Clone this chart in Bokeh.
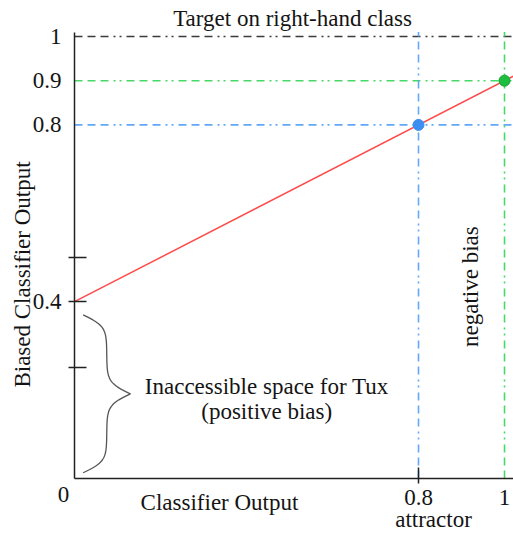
import numpy as np
from math import pi
from bokeh.plotting import figure
from bokeh.models import FixedTicker, Label
from bokeh.embed import file_html
from bokeh.resources import INLINE

# ---- chart values ----
title_text = "Target on right-hand class"
x_label = "Classifier Output"
y_label = "Biased Classifier Output"
x_ticks = [0.8, 1]
x_tick_labels = ["0.8", "1"]
x_minor = [0.8]
y_ticks = [0.4, 0.8, 0.9, 1]
y_tick_labels = ["0.4", "0.8", "0.9", "1"]
y_minor = [0.25, 0.4, 0.5]
line_x = [0, 0.8, 1]
line_y = [0.4, 0.8, 0.9]
point_x = [0.8, 1]
point_y = [0.8, 0.9]
upper_level = 1
brace_span = [0.013, 0.37]
texts = ["Inaccessible space for Tux", "(positive bias)", "negative bias", "attractor", "0"]

FONT = "Liberation Serif"
FS = "23px"
INK = "#141414"
AX = "#222222"
BLUE_L, BLUE_D = "#62a8f8", "#3c8ef0"
GREEN_L, GREEN_D = "#48d868", "#1cbf3e"
DASH = "8 5 8 5 8 5 2 4 2 5"

W, H = 513, 535
x_start, x_end = -0.1721, 1.0209
y_start, y_end = -0.129, 1.0814
y_top = 1.01

p = figure(width=W, height=H, output_backend="svg", toolbar_location=None,
           x_range=(x_start, x_end), y_range=(y_start, y_end),
           min_border=0)
p.grid.visible = False
p.outline_line_color = None

# axes crossing at the origin
xa = p.xaxis[0]
xa.ticker = FixedTicker(ticks=x_ticks, minor_ticks=x_minor)
xa.major_label_overrides = dict(zip(x_ticks, x_tick_labels))
xa.fixed_location = 0
xa.bounds = (0, x_end)
ya = p.yaxis[0]
ya.ticker = FixedTicker(ticks=y_ticks, minor_ticks=y_minor)
ya.major_label_overrides = dict(zip(y_ticks, y_tick_labels))
ya.fixed_location = 0
ya.bounds = (0, y_top)
for ax in (xa, ya):
    ax.major_tick_in = 0
    ax.major_tick_out = 0
    ax.minor_tick_line_color = AX
    ax.minor_tick_line_width = 1.5
    ax.axis_line_color = AX
    ax.axis_line_width = 1.5
    ax.major_label_text_font = FONT
    ax.major_label_text_font_size = FS
    ax.major_label_text_color = INK
    ax.major_label_standoff = 7
xa.minor_tick_in, xa.minor_tick_out = 11, 5
ya.minor_tick_in, ya.minor_tick_out = 12, 6

# dash-dot reference lines
h_levels = [upper_level, point_y[1], point_y[0]]
h_colors = ["#3a3a3a", GREEN_L, BLUE_L]
p.segment(x0=[0] * 3, y0=h_levels, x1=[x_end] * 3, y1=h_levels,
          line_color=h_colors, line_width=1.6, line_dash=DASH)
v_colors = [BLUE_L, GREEN_L]
p.segment(x0=point_x, y0=[0, 0], x1=point_x, y1=[y_top, y_top],
          line_color=v_colors, line_width=1.6, line_dash=DASH)

# biased classifier line (fit through its points, extended to the edge)
grad, icpt = np.polyfit(line_x, line_y, 1)
lx = np.array([line_x[0], x_end])
p.line(lx, icpt + grad * lx, line_color="#ff4a4a", line_width=1.5)

p.scatter(point_x, point_y, size=11, fill_color=[BLUE_D, GREEN_D],
          line_color=[BLUE_D, "#17a236"], line_width=1)

# curly brace over the inaccessible region
b0, b1 = brace_span
hh = (b1 - b0) / 2
t = np.linspace(0, 1, 80)
beta = 14
half = 1 / (1 + np.exp(-beta * t)) + 1 / (1 + np.exp(-beta * (t - 1))) - 0.5
bx0, bw = 0.02, 0.11
xs = np.concatenate([bx0 + bw * half, (bx0 + bw * half)[::-1]])
ys = np.concatenate([b1 - t * hh, (b0 + hh) - t * hh])
p.line(xs, ys, line_color="#555555", line_width=1.3)

def lab(text, x, y, xo=0, yo=0, align="center", base="alphabetic", angle=0):
    p.add_layout(Label(x=x, y=y, x_offset=xo, y_offset=yo, text=text, text_font=FONT,
                       text_font_size=FS, text_color=INK, text_align=align,
                       text_baseline=base, angle=angle))

lab(title_text, 0.507, y_top, yo=14)
lab(y_label, 0, 0.4615, xo=-52, base="middle", angle=pi / 2)
lab(x_label, 0.3372, 0, yo=-24)
lab(texts[0], 0.447, 0.2081)
lab(texts[1], 0.447, 0.1515)
lab(texts[2], point_x[1], 0.434, xo=-34, base="middle", angle=pi / 2)
lab(texts[3], point_x[0], 0, xo=15, yo=-41)
lab(texts[4], 0, 0, xo=-11, yo=-16, base="middle")

open("out.html", "w").write(file_html(p, INLINE))
